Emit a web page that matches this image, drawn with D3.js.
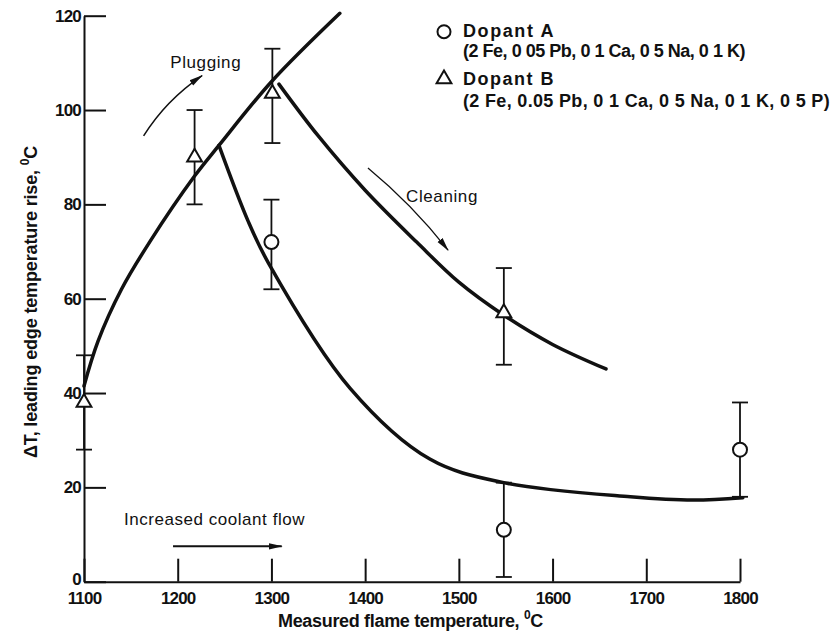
<!DOCTYPE html>
<html>
<head>
<meta charset="utf-8">
<script src="https://cdn.jsdelivr.net/npm/d3@7"></script>
<style>
body { margin: 0; background: #fff; }
text { font-family: "Liberation Sans", Arial, sans-serif; fill: #111; }
</style>
</head>
<body>
<div id="chart"></div>
<script>
// tick values
var xTicks = [1100, 1200, 1300, 1400, 1500, 1600, 1700, 1800];
var yTicks = [0, 20, 40, 60, 80, 100, 120];

// Dopant A (circles): flame temperature, delta T, error bar low / high
var dopantA_T = [1300, 1548, 1800];
var dopantA_dT = [72, 11, 28];
var dopantA_lo = [62, 1, 18];
var dopantA_hi = [81, 21, 38];

// Dopant B (triangles)
var dopantB_T = [1100, 1218, 1301, 1548];
var dopantB_dT = [38, 90, 103.5, 57];
var dopantB_lo = [28, 80, 93, 46];
var dopantB_hi = [48, 100, 113, 66.5];

// hand drawn curves
var plugCurve_T = [1100, 1115, 1140, 1170, 1218, 1244, 1300, 1373];
var plugCurve_dT = [41.5, 51, 62, 72, 86, 92.5, 106, 120.5];
var curveA_T = [1244, 1275, 1297, 1384, 1469, 1548, 1683, 1750, 1803];
var curveA_dT = [92.5, 76.5, 67.5, 41, 26, 21, 18, 17.3, 17.8];
var curveB_T = [1308, 1350, 1400, 1455, 1500, 1548, 1600, 1657];
var curveB_dT = [105.5, 94.5, 83, 72, 63.5, 56.5, 50.3, 45.1];

var legendLabels = ["Dopant A", "(2 Fe, 0 05 Pb, 0 1 Ca, 0 5 Na, 0 1 K)",
                    "Dopant B", "(2 Fe, 0.05 Pb, 0 1 Ca, 0 5 Na, 0 1 K, 0 5 P)"];

var width = 834;
var height = 633;

var svg = d3.select("#chart")
    .append("svg")
    .attr("width", width)
    .attr("height", height);

var x = d3.scaleLinear().domain([1100, 1800]).range([84, 740]);
var y = d3.scaleLinear().domain([0, 120]).range([581.7, 15.7]);

// stretch a text to the width it has in the scan
function fit(sel, target) {
    var node = sel.node();
    var w = node.getComputedTextLength();
    var n = node.textContent.length;
    sel.style("letter-spacing", ((target - w) / n) + "px");
}

var defs = svg.append("defs");
defs.append("marker")
    .attr("id", "head")
    .attr("markerUnits", "userSpaceOnUse")
    .attr("markerWidth", 14)
    .attr("markerHeight", 8)
    .attr("refX", 13)
    .attr("refY", 4)
    .attr("orient", "auto")
    .append("path")
    .attr("d", "M0,0.8 L14,4 L0,7.2 Z")
    .attr("fill", "#111");

// axes
var xAxis = d3.axisBottom(x).tickValues(xTicks).tickSizeInner(-23).tickSizeOuter(0).tickPadding(10)
    .tickFormat(d3.format("d"));
var yAxis = d3.axisLeft(y).tickValues(yTicks).tickSizeInner(-22).tickSizeOuter(0).tickPadding(3);

var gx = svg.append("g").attr("transform", "translate(0," + y(0) + ")").call(xAxis);
var gy = svg.append("g").attr("transform", "translate(" + x(1100) + ",0)").call(yAxis);

[gx, gy].forEach(function(g) {
    g.selectAll("path, line").attr("stroke", "#111").attr("stroke-width", 2);
    g.selectAll("text")
        .attr("fill", "#111")
        .style("font-size", "17px")
        .style("font-weight", "bold")
        .style("letter-spacing", "-0.8px")
        .style("font-family", "\"Liberation Sans\", Arial, sans-serif");
});
// the zero sits a little above the corner in the scan
gy.selectAll(".tick text").filter(function(d) { return d === 0 }).attr("y", -3);

// curves
var line = d3.line()
    .x(function(d) { return x(d[0]) })
    .y(function(d) { return y(d[1]) })
    .curve(d3.curveCatmullRom);

var curves = [d3.zip(plugCurve_T, plugCurve_dT), d3.zip(curveA_T, curveA_dT), d3.zip(curveB_T, curveB_dT)];
svg.selectAll(".fit")
    .data(curves)
    .enter().append("path")
    .attr("class", "fit")
    .attr("d", line)
    .attr("fill", "none")
    .attr("stroke", "#111")
    .attr("stroke-width", 3.5)
    .attr("stroke-linecap", "round");

// error bars
function errorBars(T, lo, hi) {
    var g = svg.append("g").attr("stroke", "#111").attr("stroke-width", 1.8);
    T.forEach(function(t, i) {
        g.append("line").attr("x1", x(t)).attr("x2", x(t)).attr("y1", y(lo[i])).attr("y2", y(hi[i]));
        g.append("line").attr("x1", x(t) - 8).attr("x2", x(t) + 8).attr("y1", y(lo[i])).attr("y2", y(lo[i]));
        g.append("line").attr("x1", x(t) - 8).attr("x2", x(t) + 8).attr("y1", y(hi[i])).attr("y2", y(hi[i]));
    });
}
errorBars(dopantA_T, dopantA_lo, dopantA_hi);
errorBars(dopantB_T, dopantB_lo, dopantB_hi);

svg.selectAll(".ptA")
    .data(d3.zip(dopantA_T, dopantA_dT))
    .enter().append("circle")
    .attr("class", "ptA")
    .attr("cx", function(d) { return x(d[0]) })
    .attr("cy", function(d) { return y(d[1]) })
    .attr("r", 7)
    .attr("fill", "#fff")
    .attr("stroke", "#111")
    .attr("stroke-width", 2);

var tri = d3.symbol().type(d3.symbolTriangle).size(95);
svg.selectAll(".ptB")
    .data(d3.zip(dopantB_T, dopantB_dT))
    .enter().append("path")
    .attr("class", "ptB")
    .attr("d", tri)
    .attr("transform", function(d) { return "translate(" + x(d[0]) + "," + y(d[1]) + ")" })
    .attr("fill", "#fff")
    .attr("stroke", "#111")
    .attr("stroke-width", 2);

// annotations
svg.append("path")
    .attr("d", "M" + x(1163.6) + "," + y(94.5) + " Q" + x(1187) + "," + y(102) + " " + x(1226) + "," + y(107.3))
    .attr("fill", "none").attr("stroke", "#111").attr("stroke-width", 1.5)
    .attr("marker-end", "url(#head)");
svg.append("path")
    .attr("d", "M" + x(1403) + "," + y(87.7) + " Q" + x(1450) + "," + y(80) + " " + x(1488.5) + "," + y(70.3))
    .attr("fill", "none").attr("stroke", "#111").attr("stroke-width", 1.3)
    .attr("marker-end", "url(#head)");
svg.append("line")
    .attr("x1", x(1195)).attr("y1", y(7.5)).attr("x2", x(1311)).attr("y2", y(7.5))
    .attr("stroke", "#111").attr("stroke-width", 2)
    .attr("marker-end", "url(#head)");

fit(svg.append("text").attr("x", x(1192)).attr("y", y(108.9)).style("font-size", "17px").text("Plugging"), 71);
fit(svg.append("text").attr("x", x(1443.6)).attr("y", y(80.5)).style("font-size", "17px").text("Cleaning"), 72);
fit(svg.append("text").attr("x", x(1142.7)).attr("y", y(12)).style("font-size", "17px").text("Increased coolant flow"), 181);

// axis titles
var xt = svg.append("text")
    .attr("x", 278).attr("y", 627)
    .style("font-size", "18px").style("font-weight", "bold")
    .text("Measured flame temperature, ");
xt.append("tspan").attr("dy", -8).style("font-size", "12px").text("0");
xt.append("tspan").attr("dy", 8).text("C");
fit(xt, 265);

var yt = svg.append("text")
    .attr("transform", "translate(37,458) rotate(-90)")
    .style("font-size", "18px").style("font-weight", "bold")
    .text("\u0394T,  leading edge temperature rise, ");
yt.append("tspan").attr("dy", -8).style("font-size", "12px").text("0");
yt.append("tspan").attr("dy", 8).text("C");
fit(yt, 312);

// legend
var leg = svg.append("g");
leg.append("circle").attr("cx", 444).attr("cy", 31.7).attr("r", 6.5)
    .attr("fill", "#fff").attr("stroke", "#111").attr("stroke-width", 2);
leg.append("path").attr("d", tri).attr("transform", "translate(444,79)")
    .attr("fill", "#fff").attr("stroke", "#111").attr("stroke-width", 2);
var legWidths = [92, 282, 92, 367];
leg.selectAll("text")
    .data(legendLabels)
    .enter().append("text")
    .attr("x", 463)
    .attr("y", function(d, i) { return [37, 57, 85, 107][i] })
    .style("font-size", "18px").style("font-weight", "bold")
    .text(function(d) { return d })
    .each(function(d, i) { fit(d3.select(this), legWidths[i]) });
</script>
</body>
</html>
